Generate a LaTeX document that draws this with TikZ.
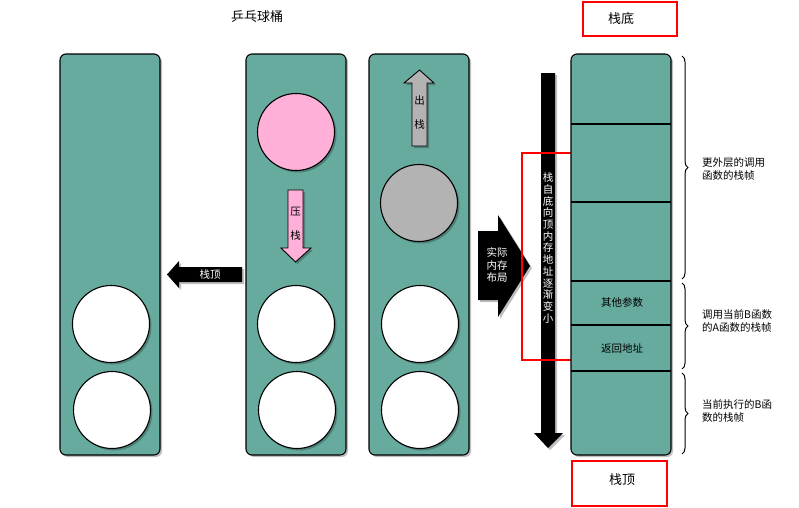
\documentclass[tikz,border=0pt]{standalone}
\usepackage{fontspec}
\newfontfamily\cjk{Noto Sans CJK SC}
\usetikzlibrary{shadows,decorations.pathreplacing}
\definecolor{teal1}{HTML}{67AB9F}
\definecolor{pink1}{HTML}{FFB0D8}
\definecolor{grey1}{HTML}{B3B3B3}
\tikzset{
  shad/.style={drop shadow={shadow xshift=2pt,shadow yshift=-2pt,opacity=0.25,fill=black}},
  tube/.style={draw=black,line width=1.1pt,fill=teal1,rounded corners=6pt,minimum width=100pt,minimum height=401pt,inner sep=0pt,shad},
  ball/.style={circle,draw=black,line width=1.1pt,fill=white,minimum size=77pt,inner sep=0pt,shad},
  lbl/.style={font=\cjk\fontsize{10.5}{12.3}\selectfont,inner sep=0pt,align=center},
  wlbl/.style={lbl,text=white},
  redbox/.style={draw=red,line width=1.3pt,fill=white,inner sep=0pt},
  arr/.style={draw=black,line width=0.9pt,shad},
  brc/.style={decorate,decoration={brace,amplitude=6pt},line width=1pt},
}
\begin{document}
\begin{tikzpicture}[x=1pt,y=-1pt]
\useasboundingbox (0,0) rectangle (799,507);
% title
\node[lbl,font=\cjk\fontsize{13}{15}\selectfont] (title) at (257,17) {乒乓球桶};
% tubes
\node[tube] (t1) at (110,254.5) {};
\node[tube] (t2) at (296,254.5) {};
\node[tube] (t3) at (419,254.5) {};
% balls
\node[ball] (b11) at (111,324) {};
\node[ball] (b12) at (112,410) {};
\node[ball,fill=pink1] (b2p) at (296,132) {};
\node[ball] (b21) at (296,324) {};
\node[ball] (b22) at (297,410) {};
\node[ball,fill=grey1] (b3g) at (419,203) {};
\node[ball] (b31) at (420,324) {};
\node[ball] (b32) at (420,410) {};
% push arrow (pink, down)
\filldraw[arr,fill=pink1] (288,190) -- (303,190) -- (303,248) -- (311,248) -- (295.5,262) -- (281,248) -- (288,248) -- cycle;
\node[lbl] (push1) at (295.5,212) {压};
\node[lbl] (push2) at (295.5,236) {栈};
% pop arrow (grey, up)
\filldraw[arr,fill=grey1] (412,146) -- (427,146) -- (427,83) -- (434,83) -- (419.5,70) -- (404,83) -- (412,83) -- cycle;
\node[lbl] (pop1) at (419.5,100) {出};
\node[lbl] (pop2) at (419.5,125) {栈};
% stack top arrow (black, left)
\fill[black,shad] (242,267) -- (179,267) -- (179,261) -- (167,274.5) -- (179,288) -- (179,282) -- (242,282) -- cycle;
\node[wlbl] (top1) at (210,274.5) {栈顶};
% big right arrow
\fill[black,shad] (478,231) -- (498,231) -- (498,215) -- (530,266) -- (498,317) -- (498,300) -- (478,300) -- cycle;
\node[wlbl] (layout) at (497,265) {实际\\内存\\布局};
% vertical arrow
\fill[black,shad] (541,73) -- (555,73) -- (555,433) -- (563,433) -- (548,448) -- (534,433) -- (541,433) -- cycle;
\node[wlbl,font=\cjk\fontsize{10.5}{11.7}\selectfont] (vtext) at (548,248) {栈\\自\\底\\向\\顶\\内\\存\\地\\址\\逐\\渐\\变\\小};
\node[draw=red,line width=1.3pt,minimum width=54pt,minimum height=207pt,inner sep=0pt] (rbox) at (549,256.5) {};
% memory stack
\node[tube] (stk) at (621,254.5) {};
\draw[line width=1.1pt] (571,124) -- (671,124);
\draw[line width=1.1pt] (571,202) -- (671,202);
\draw[line width=1.1pt] (571,281) -- (671,281);
\draw[line width=1.1pt] (571,325) -- (671,325);
\draw[line width=1.1pt] (571,371) -- (671,371);
\node[lbl] (c1) at (622,302) {其他参数};
\node[lbl] (c2) at (622,348) {返回地址};
% red boxes top/bottom
\node[redbox,minimum width=94pt,minimum height=34pt] (bottomlbl) at (630,19) {};
\node[lbl,font=\cjk\fontsize{13}{15}\selectfont] (bottomtxt) at (621,19) {栈底};
\node[redbox,minimum width=95pt,minimum height=45pt] (toplbl) at (619.5,483.5) {};
\node[lbl,font=\cjk\fontsize{13}{15}\selectfont] (toptxt) at (622,480) {栈顶};
% braces
\draw[brc] (682,56) -- (682,279);
\draw[brc] (682,283) -- (682,369);
\draw[brc] (682,373) -- (682,454);
\node[lbl,align=left,anchor=west,font=\cjk\fontsize{10.5}{12.5}\selectfont] (d1) at (702,169) {更外层的调用\\函数的栈帧};
\node[lbl,align=left,anchor=west,font=\cjk\fontsize{10.5}{12.5}\selectfont] (d2) at (702,321) {调用当前B函数\\的\textit{A}函数的栈帧};
\node[lbl,align=left,anchor=west,font=\cjk\fontsize{10.5}{12.5}\selectfont] (d3) at (702,411) {当前执行的B函\\数的栈帧};
\end{tikzpicture}
\end{document}
